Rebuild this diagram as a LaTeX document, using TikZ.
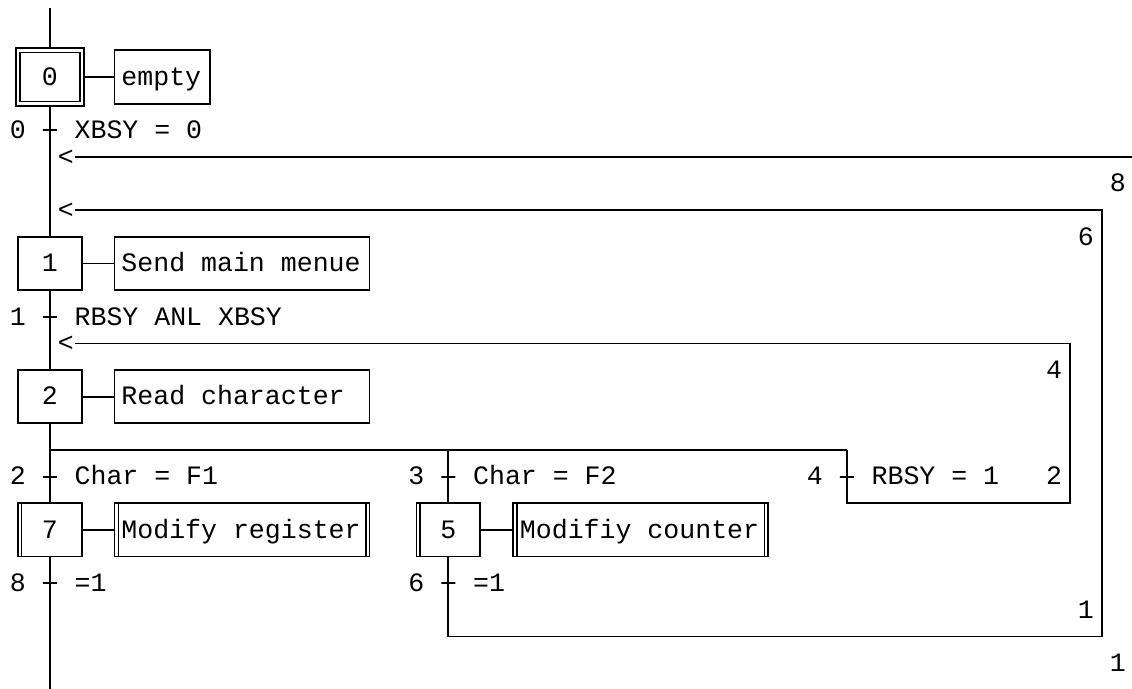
\documentclass[tikz,border=0pt]{standalone}
\usepackage{fontspec}
\setmonofont{Liberation Mono}
\tikzset{
  stepbox/.style={draw, rectangle, minimum width=63.76pt, minimum height=53.28pt, inner sep=0pt},
  initstep/.style={stepbox, double, double distance=2.3pt},
  macrostep/.style={stepbox, path picture={
    \draw ([xshift=3.5pt]path picture bounding box.north west) -- ([xshift=3.5pt]path picture bounding box.south west);}},
  action/.style={draw, rectangle, anchor=west, minimum height=53.28pt, inner xsep=6.97pt, inner ysep=0pt,
    align=left, execute at begin node={\spaceskip=0pt\xspaceskip=0pt\relax}},
  macroaction/.style={action, path picture={
    \draw ([xshift=4pt]path picture bounding box.north west) -- ([xshift=4pt]path picture bounding box.south west);
    \draw ([xshift=-3.5pt]path picture bounding box.north east) -- ([xshift=-3.5pt]path picture bounding box.south east);}},
  trans/.style={draw, minimum width=14pt, minimum height=0pt, inner sep=0pt, text height=0pt, text depth=0pt},
  cond/.style={anchor=west, inner sep=0pt},
  num/.style={inner sep=0pt}
}
\begin{document}
\begin{tikzpicture}[x=15.94pt, y=-26.64pt, line width=1.8pt,
  font=\ttfamily\fontsize{26.57pt}{26.57pt}\selectfont, text height=16.5pt, text depth=0pt]

\useasboundingbox (-0.125,-0.89) rectangle (70.89,24.97);

\node[initstep] (s0) at (3,2) {0};
\node[action, text width=81.7pt] (a0) at (7,2) {empty};
\node[stepbox] (s1) at (3,9) {1};
\node[action, text width=241.1pt] (a1) at (7,9) {Send main menue};
\node[stepbox] (s2) at (3,14) {2};
\node[action, text width=241.1pt] (a2) at (7,14) {Read character};
\node[macrostep] (s7) at (3,19) {7};
\node[macroaction, text width=241.1pt] (a7) at (7,19) {Modify register};
\node[macrostep] (s5) at (28,19) {5};
\node[macroaction, text width=241.1pt] (a5) at (32,19) {Modifiy counter};

\node[trans] (t0) at (3,4) {};
\node[num] (n0) at (1,4) {0};
\node[cond] (c0) at (4.5,4) {XBSY = 0};
\node[trans] (t1) at (3,11) {};
\node[num] (n1) at (1,11) {1};
\node[cond] (c1) at (4.5,11) {RBSY ANL XBSY};
\node[trans] (t2) at (3,17) {};
\node[num] (n2) at (1,17) {2};
\node[cond] (c2) at (4.5,17) {Char = F1};
\node[trans] (t3) at (28,17) {};
\node[num] (n3) at (26,17) {3};
\node[cond] (c3) at (29.5,17) {Char = F2};
\node[trans] (t4) at (53,17) {};
\node[num] (n4) at (51,17) {4};
\node[cond] (c4) at (54.5,17) {RBSY = 1};
\node[trans] (t8) at (3,21) {};
\node[num] (n8) at (1,21) {8};
\node[cond] (c8) at (4.5,21) {=1};
\node[trans] (t6) at (28,21) {};
\node[num] (n6) at (26,21) {6};
\node[cond] (c6) at (29.5,21) {=1};

\node[num] (r8) at (4,5) {<};
\node[num] (r6) at (4,7) {<};
\node[num] (r4) at (4,12) {<};

\node[num] (l8) at (70,6) {8};
\node[num] (l6) at (68,8) {6};
\node[num] (l4) at (66,13) {4};
\node[num] (l2) at (66,17) {2};
\node[num] (l1) at (68,22) {1};
\node[num] (l1b) at (70,24) {1};

\coordinate (top) at (3,-0.59);
\coordinate (bottom) at (3,25.5);
\coordinate (jump8) at (70.89,5);
\coordinate (div) at (3,16);
\coordinate (div3) at (28,16);
\coordinate (div4) at (53,16);
\coordinate (corner4) at (67,18);
\coordinate (corner6) at (69,23);

\draw (top) -- (s0);
\draw (s0) -- (a0);
\draw (s0) -- (s1);
\draw (s1) -- (a1);
\draw (s1) -- (s2);
\draw (s2) -- (a2);
\draw (s2) -- (s7);
\draw (s7) -- (a7);
\draw (s7) -- (bottom);
\draw (div) -- (div4);
\draw (div3) -- (s5);
\draw (s5) -- (a5);

\draw (jump8) -- (r8);
\draw (s5) |- (corner6) |- (r6);
\draw (div4) |- (corner4) |- (r4);

\end{tikzpicture}
\end{document}
